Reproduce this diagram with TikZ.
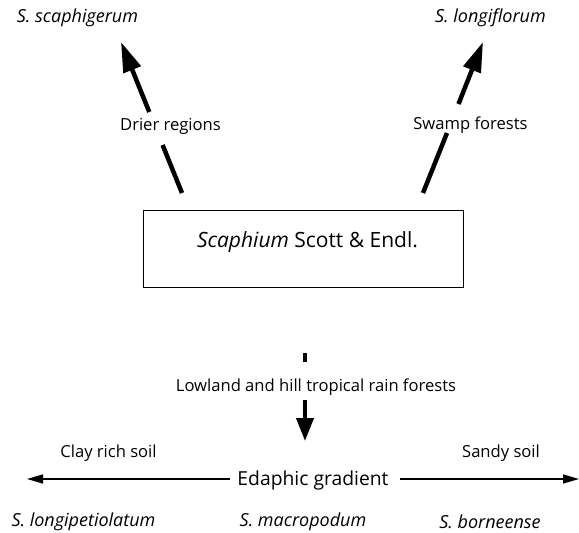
\documentclass[tikz,border=0pt]{standalone}
\usepackage{fontspec}
\setmainfont{Open Sans}
\usetikzlibrary{arrows.meta}
\tikzset{
  lbl/.style={inner sep=0pt, font=\fontsize{16.6}{18}\selectfont},
  sp/.style={inner sep=0pt, font=\fontsize{18}{20}\selectfont\itshape},
  bigarrow/.style={line width=4.5pt, -{Triangle[length=30pt,width=18pt]}},
  bigbar/.style={line width=4.5pt},
  downarrow/.style={line width=4pt, -{Triangle[length=23pt,width=17pt]}},
  harrow/.style={line width=1.4pt, -{Triangle[length=16pt,width=9pt]}},
}
\begin{document}
\begin{tikzpicture}[x=1pt,y=-1pt]
\useasboundingbox (0,0) rectangle (579,533);
% top species
\node[sp] (scaph) at (77.5,18) {S. scaphigerum};
\node[sp] (longi) at (490.5,18) {S. longiflorum};
% box
\node[draw, line width=1pt, minimum width=320pt, minimum height=77pt, inner sep=0pt] (box) at (303,248.5) {};
\node[inner sep=0pt, font=\fontsize{21}{23}\selectfont] (boxtxt) at (307.5,242) {\textit{Scaphium} Scott \& Endl.};
% left arrow
\node[lbl] (drier) at (170.5,126) {Drier regions};
\coordinate (L0) at (182,193);
\coordinate (L1) at (162.6,145);
\coordinate (L2) at (149.3,112);
\coordinate (L3) at (121,42);
\draw[bigbar] (L0) -- (L1);
\draw[bigarrow] (L2) -- (L3);
% right arrow
\node[lbl] (swamp) at (470.5,125) {Swamp forests};
\coordinate (R0) at (423,193);
\coordinate (R1) at (447,133);
\coordinate (R2) at (458.5,104);
\coordinate (R3) at (483,42);
\draw[bigbar] (R0) -- (R1);
\draw[bigarrow] (R2) -- (R3);
% down arrow
\node[lbl] (lowland) at (316,387) {Lowland and hill tropical rain forests};
\coordinate (D0) at (305,353);
\coordinate (D1) at (305,362);
\coordinate (D2) at (305,400);
\coordinate (D3) at (305,441);
\draw[line width=4pt] (D0) -- (D1);
\draw[downarrow] (D2) -- (D3);
% gradient
\node[lbl] (clay) at (108.5,453) {Clay rich soil};
\node[lbl] (sandy) at (501,453) {Sandy soil};
\node[inner sep=0pt, font=\fontsize{19.3}{21}\selectfont] (edaphic) at (313,480) {Edaphic gradient};
\coordinate (H0) at (230,479);
\coordinate (H1) at (27,479);
\coordinate (H2) at (400,479);
\coordinate (H3) at (579,479);
\draw[harrow] (H0) -- (H1);
\draw[harrow] (H2) -- (H3);
% bottom species
\node[sp] (lpet) at (83.5,522) {S. longipetiolatum};
\node[sp] (macro) at (303,522) {S. macropodum};
\node[sp] (born) at (490,522) {S. borneense};
\end{tikzpicture}
\end{document}
